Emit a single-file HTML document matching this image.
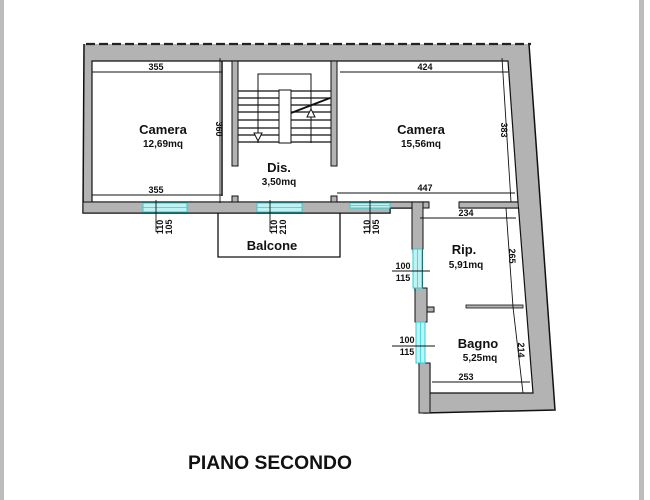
<!DOCTYPE html>
<html><head><meta charset="utf-8"><style>
html,body{margin:0;padding:0;background:#fff}
svg{display:block}
text{font-family:"Liberation Sans",sans-serif;fill:#111}
</style></head><body>
<svg width="650" height="500" viewBox="0 0 650 500" xmlns="http://www.w3.org/2000/svg">
<rect x="0" y="0" width="4" height="500" fill="#bdbdbd"/>
<rect x="639" y="0" width="5" height="500" fill="#bdbdbd"/>
<!-- outer gray mass -->
<polygon points="84,44 529,44 555,410 424,413 419,363 413,249 413,208 390,208 390,213 83,213" fill="#b3b3b3"/>
<polyline points="84,44 83,213 390,213 390,208 413,208 413,249 419,363 424,413 555,410 529,44" fill="none" stroke="#111" stroke-width="1.5"/>
<line x1="86" y1="44" x2="531" y2="44" stroke="#222" stroke-width="2.2" stroke-dasharray="9,4"/>
<!-- rooms -->
<polygon points="92,61 508,61 518,202 92,202" fill="#fff" stroke="#111" stroke-width="1.2"/>
<polygon points="421,208 518.5,208 533,393 430,393 430,363 423,363 423,208" fill="#fff" stroke="#111" stroke-width="1.2"/>
<rect x="429" y="201" width="30" height="8" fill="#fff"/>
<rect x="423" y="208" width="8" height="155" fill="#fff"/>
<!-- walls -->
<rect x="232" y="61" width="6" height="105" fill="#b3b3b3" stroke="#111" stroke-width="1"/>
<rect x="331" y="61" width="6" height="105" fill="#b3b3b3" stroke="#111" stroke-width="1"/>
<line x1="222" y1="61" x2="222" y2="196" stroke="#111" stroke-width="1.5"/>
<rect x="83" y="202" width="307" height="11" fill="#b3b3b3" stroke="#111" stroke-width="1"/>
<rect x="390" y="202" width="39" height="6" fill="#b3b3b3" stroke="#111" stroke-width="1"/>
<rect x="412" y="202" width="11" height="47" fill="#b3b3b3" stroke="#111" stroke-width="1"/>
<polygon points="459,202 518,202 518.5,208 459,208" fill="#b3b3b3" stroke="#111" stroke-width="1"/>
<rect x="232" y="196" width="6" height="6" fill="#b3b3b3" stroke="#111" stroke-width="1"/>
<rect x="331" y="196" width="6" height="6" fill="#b3b3b3" stroke="#111" stroke-width="1"/>
<rect x="415" y="288" width="12" height="34" fill="#b3b3b3" stroke="#111" stroke-width="1"/>
<rect x="427" y="307" width="7" height="5" fill="#b3b3b3" stroke="#111" stroke-width="1"/>
<rect x="419" y="363" width="11" height="50" fill="#b3b3b3" stroke="#111" stroke-width="1"/>
<rect x="466" y="305" width="57" height="3" fill="#b3b3b3" stroke="#111" stroke-width="0.8"/>
<!-- windows -->
<g fill="#bff3f3" stroke="#2fd0d8" stroke-width="1">
<rect x="143" y="203" width="44" height="9"/>
<rect x="257" y="203" width="45" height="9"/>
<rect x="350" y="203" width="40" height="5"/>
<rect x="413" y="249" width="9" height="39"/>
<rect x="416" y="322" width="9" height="41"/>
</g>
<g stroke="#2fd0d8" stroke-width="0.8">
<line x1="143" y1="207.5" x2="187" y2="207.5"/><line x1="257" y1="207.5" x2="302" y2="207.5"/>
<line x1="350" y1="205.5" x2="390" y2="205.5"/><line x1="417.5" y1="249" x2="417.5" y2="288"/>
<line x1="420.5" y1="322" x2="420.5" y2="363"/>
</g>
<!-- balcone -->
<polyline points="218,213 218,257 340,257 340,213" fill="none" stroke="#111" stroke-width="1.3"/>
<!-- stairs -->
<g stroke="#111" stroke-width="1.3">
<line x1="238" y1="91" x2="331" y2="91"/><line x1="238" y1="98" x2="331" y2="98"/>
<line x1="238" y1="105" x2="331" y2="105"/><line x1="238" y1="112" x2="331" y2="112"/>
<line x1="238" y1="120" x2="331" y2="120"/><line x1="238" y1="128" x2="331" y2="128"/>
<line x1="238" y1="135" x2="331" y2="135"/><line x1="238" y1="142" x2="331" y2="142"/>
</g>
<rect x="279" y="90" width="12" height="53" fill="#fff" stroke="#111" stroke-width="1"/>
<polyline points="258,143 258,74 311,74 311,143" fill="none" stroke="#111" stroke-width="1"/>
<line x1="291" y1="113" x2="330" y2="98" stroke="#111" stroke-width="2"/>
<polygon points="254,133 262,133 258,141" fill="#fff" stroke="#111" stroke-width="1"/>
<polygon points="307,117 315,117 311,109" fill="#fff" stroke="#111" stroke-width="1"/>
<!-- dimension lines -->
<g stroke="#111" stroke-width="0.9" fill="none">
<line x1="92" y1="72" x2="222" y2="72"/><line x1="92" y1="195" x2="222" y2="195"/>
<line x1="220" y1="58" x2="220" y2="203"/>
<line x1="340" y1="72" x2="508" y2="72"/><line x1="502" y1="58" x2="511" y2="202"/>
<line x1="337" y1="193" x2="515" y2="193"/>
<line x1="420" y1="218" x2="516" y2="218"/><line x1="506" y1="208" x2="513" y2="307"/>
<line x1="513" y1="307" x2="523" y2="393"/>
<line x1="432" y1="382" x2="530" y2="382"/>
<line x1="156" y1="200" x2="156" y2="232"/><line x1="270" y1="200" x2="270" y2="232"/>
<line x1="370" y1="200" x2="370" y2="232"/>
<line x1="392" y1="271" x2="430" y2="271"/><line x1="392" y1="346" x2="435" y2="346"/>
</g>
<g font-size="9" text-anchor="middle" font-weight="bold">
<text x="156" y="70">355</text><text x="156" y="193">355</text>
<text x="425" y="70">424</text><text x="425" y="191">447</text>
<text x="466" y="216">234</text><text x="466" y="380">253</text>
<text transform="translate(216,129) rotate(90)">360</text>
<text transform="translate(501,130) rotate(90)">383</text>
<text transform="translate(509,256) rotate(90)">265</text>
<text transform="translate(518,350) rotate(90)">214</text>
<text transform="translate(163,227) rotate(-90)">110</text><text transform="translate(172,227) rotate(-90)">105</text>
<text transform="translate(277,227) rotate(-90)">110</text><text transform="translate(286,227) rotate(-90)">210</text>
<text transform="translate(370,227) rotate(-90)">110</text><text transform="translate(379,227) rotate(-90)">105</text>
<text x="403" y="269">100</text><text x="403" y="281">115</text>
<text x="407" y="343">100</text><text x="407" y="355">115</text>
</g>
<g text-anchor="middle" font-weight="bold">
<text x="163" y="134" font-size="13">Camera</text><text x="163" y="147" font-size="10">12,69mq</text>
<text x="421" y="134" font-size="13">Camera</text><text x="421" y="147" font-size="10">15,56mq</text>
<text x="279" y="172" font-size="13">Dis.</text><text x="279" y="185" font-size="10">3,50mq</text>
<text x="272" y="250" font-size="13">Balcone</text>
<text x="464" y="254" font-size="13">Rip.</text><text x="466" y="268" font-size="10">5,91mq</text>
<text x="478" y="348" font-size="13">Bagno</text><text x="480" y="361" font-size="10">5,25mq</text>
<text x="270" y="469" font-size="19" textLength="164" lengthAdjust="spacingAndGlyphs">PIANO SECONDO</text>
</g>
</svg>
</body></html>
